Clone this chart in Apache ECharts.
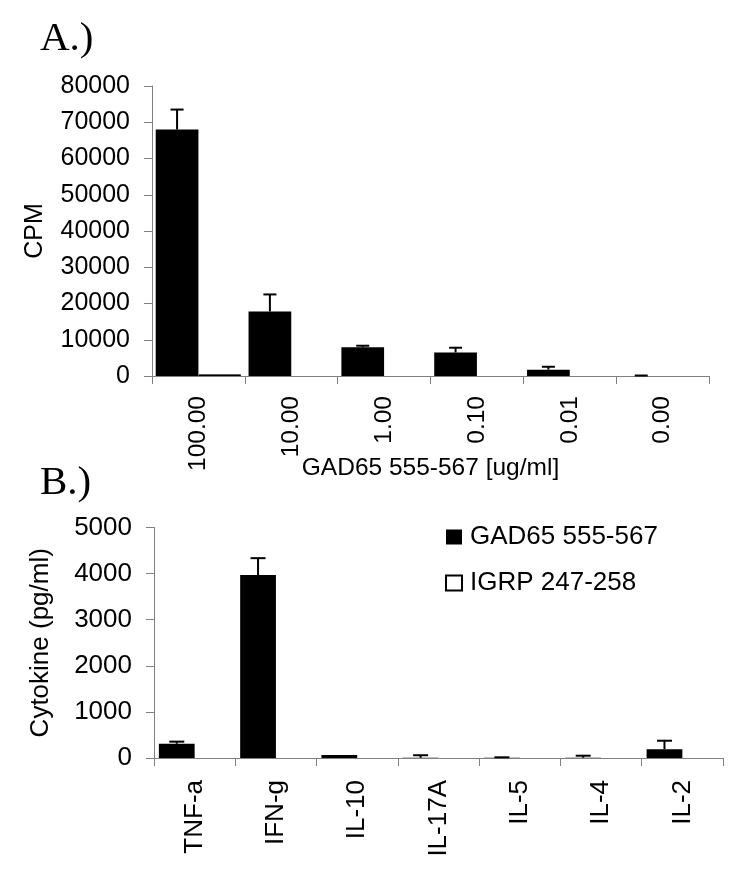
<!DOCTYPE html>
<html>
<head>
<meta charset="utf-8">
<script src="https://cdn.jsdelivr.net/npm/echarts@6/dist/echarts.min.js"></script>
<style>html,body{margin:0;padding:0;background:#fff}#c{width:750px;height:886px}</style>
</head>
<body>
<div id="c"></div>
<script>
// Panel A: proliferation
const catsA = ['100.00', '10.00', '1.00', '0.10', '0.01', '0.00'];
const gadA = [68000, 17800, 7900, 6500, 1750, 30];
const gadErrA = [5500, 4700, 450, 1300, 800, 100];
const igrpA = [450, 0, 0, 0, 0, 0];
// Panel B: cytokines
const catsB = ['TNF-a', 'IFN-g', 'IL-10', 'IL-17A', 'IL-5', 'IL-4', 'IL-2'];
const gadB = [310, 3970, 65, 5, 5, 5, 190];
const gadErrB = [45, 365, 0, 55, 10, 45, 185];
const igrpB = [0, 0, 0, 0, 0, 0, 0];
const seriesNames = ['GAD65 555-567', 'IGRP 247-258'];

const FONT = 'Liberation Sans, Arial, sans-serif';
const AXC = '#808080';
const gapA = 0.08, gapB = 0.12;

// zero-valued bars are not drawn (no outline on the baseline)
const barData = arr => arr.map(v => (v === 0 ? '-' : v));

function errRender(gapFrac, capW) {
  return function (params, api) {
    const ci = api.value(0), v = api.value(1), e = api.value(2);
    if (!(e > 0)) return;
    const cw = api.size([1, 0])[0];
    const bw = cw * (1 - gapFrac) / 2;
    const base = api.coord([ci, v]);
    const top = api.coord([ci, v + e]);
    const x = base[0] - bw / 2;
    const hw = capW / 2;
    return {
      type: 'group',
      children: [
        { type: 'line', shape: { x1: x, y1: base[1], x2: x, y2: top[1] }, style: { stroke: '#000', lineWidth: 2 } },
        { type: 'line', shape: { x1: x - hw, y1: top[1], x2: x + hw, y2: top[1] }, style: { stroke: '#000', lineWidth: 2 } }
      ]
    };
  };
}

function catAxis(idx, cats, fs, margin, name, nameGap) {
  return {
    type: 'category', gridIndex: idx, data: cats,
    boundaryGap: true,
    axisLine: { lineStyle: { color: AXC, width: 1 } },
    axisTick: { show: true, length: 8, alignWithLabel: false, lineStyle: { color: AXC } },
    axisLabel: { rotate: 90, color: '#000', fontFamily: FONT, fontSize: fs, margin: margin, interval: 0 },
    name: name, nameLocation: 'middle', nameGap: nameGap, nameMoveOverlap: false,
    nameTextStyle: { color: '#000', fontFamily: FONT, fontSize: 24.5, verticalAlign: 'top' }
  };
}
function valAxis(idx, max, interval, fs, name, nameGap, nfs) {
  return {
    type: 'value', gridIndex: idx, min: 0, max: max, interval: interval,
    splitLine: { show: false },
    axisLine: { show: true, lineStyle: { color: AXC, width: 1 } },
    axisTick: { show: true, length: 8, lineStyle: { color: AXC } },
    axisLabel: { color: '#000', fontFamily: FONT, fontSize: fs, margin: 22, formatter: v => String(v) },
    name: name, nameLocation: 'middle', nameGap: nameGap, nameRotate: 90, nameMoveOverlap: false,
    nameTextStyle: { color: '#000', fontFamily: FONT, fontSize: nfs }
  };
}

const chart = echarts.init(document.getElementById('c'), null, { renderer: 'canvas' });
chart.setOption({
  animation: false,
  backgroundColor: '#fff',
  title: [
    { text: 'A.)', left: 35, top: 14, textStyle: { fontFamily: 'Liberation Serif, Times New Roman, serif', fontSize: 41, fontWeight: 'normal', color: '#000' } },
    { text: 'B.)', left: 35, top: 458, textStyle: { fontFamily: 'Liberation Serif, Times New Roman, serif', fontSize: 41, fontWeight: 'normal', color: '#000' } }
  ],
  legend: {
    data: seriesNames,
    orient: 'vertical', left: 440, top: 519,
    icon: 'rect',
    itemWidth: 16, itemHeight: 15, itemGap: 20,
    textStyle: { color: '#000', fontFamily: FONT, fontSize: 26, lineHeight: 26, padding: [0, 0, 0, 3] },
    selectedMode: false
  },
  grid: [
    { left: 152, right: 41, top: 86, height: 290 },
    { left: 154, right: 27, top: 527.5, height: 230.5 }
  ],
  xAxis: [
    catAxis(0, catsA, 24.5, 20, 'GAD65 555-567 [ug/ml]', 80),
    catAxis(1, catsB, 26, 22, '', 0)
  ],
  yAxis: [
    valAxis(0, 80000, 10000, 25, 'CPM', 104, 25),
    valAxis(1, 5000, 1000, 26, 'Cytokine (pg/ml)', 100, 26)
  ],
  series: [
    { name: seriesNames[0], type: 'bar', xAxisIndex: 0, yAxisIndex: 0, data: barData(gadA), barGap: '0%', barCategoryGap: (gapA * 100) + '%', itemStyle: { color: '#000' } },
    { name: seriesNames[1], type: 'bar', xAxisIndex: 0, yAxisIndex: 0, data: barData(igrpA), barGap: '0%', barCategoryGap: (gapA * 100) + '%', itemStyle: { color: '#fff', borderColor: '#000', borderWidth: 1 } },
    { name: 'errA', type: 'custom', xAxisIndex: 0, yAxisIndex: 0, renderItem: errRender(gapA, 13), encode: { x: 0, y: 1 }, data: gadA.map((v, i) => [i, v, gadErrA[i]]), z: 5 },
    { name: seriesNames[0], type: 'bar', xAxisIndex: 1, yAxisIndex: 1, data: barData(gadB), barGap: '0%', barCategoryGap: (gapB * 100) + '%', itemStyle: { color: '#000' } },
    { name: seriesNames[1], type: 'bar', xAxisIndex: 1, yAxisIndex: 1, data: barData(igrpB), barGap: '0%', barCategoryGap: (gapB * 100) + '%', itemStyle: { color: '#fff', borderColor: '#000', borderWidth: 1 } },
    { name: 'errB', type: 'custom', xAxisIndex: 1, yAxisIndex: 1, renderItem: errRender(gapB, 15), encode: { x: 0, y: 1 }, data: gadB.map((v, i) => [i, v, gadErrB[i]]), z: 5 }
  ]
});
</script>
</body>
</html>
